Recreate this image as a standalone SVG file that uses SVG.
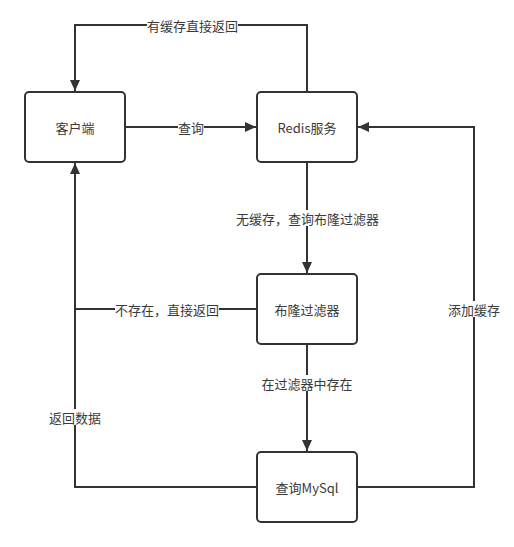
<svg xmlns="http://www.w3.org/2000/svg" width="514" height="547" viewBox="0 0 514 547">
<style>
.node rect{fill:#fff;stroke:#333;stroke-width:2}
.node text{font-family:"Noto Sans CJK SC","Liberation Sans",sans-serif;font-size:13px;fill:#3a3a3a;text-anchor:middle;dominant-baseline:central}
.edges path{fill:none;stroke:#333;stroke-width:2}
.lbl rect{fill:#fff}
.lbl text{font-family:"Noto Sans CJK SC","Liberation Sans",sans-serif;font-size:13px;fill:#3a3a3a;text-anchor:middle;dominant-baseline:central}
</style>
<defs>
<marker id="arr" viewBox="0 0 11 10" refX="11" refY="5" markerWidth="11" markerHeight="10" markerUnits="userSpaceOnUse" orient="auto">
<path d="M0,0 L11,5 L0,10 Z" fill="#333"/>
</marker>
</defs>
<rect width="514" height="547" fill="#fff"/>
<g class="edges">
<path d="M307,92 V25 H75 V91" marker-end="url(#arr)"/>
<path d="M125,127 H256" marker-end="url(#arr)"/>
<path d="M307,162 V273" marker-end="url(#arr)"/>
<path d="M257,309 H75"/>
<path d="M307,344 V451" marker-end="url(#arr)"/>
<path d="M257,487 H75 V163" marker-end="url(#arr)"/>
<path d="M357,487 H474 V127 H358" marker-end="url(#arr)"/>
<g class="lbl">
<rect x="147" y="17" width="91" height="16"/><text x="192.5" y="25">有缓存直接返回</text>
<rect x="178" y="119" width="26" height="16"/><text x="191" y="127">查询</text>
<rect x="235" y="210" width="145" height="16"/><text x="307.5" y="218">无缓存，查询布隆过滤器</text>
<rect x="115" y="301" width="104" height="16"/><text x="167" y="309">不存在，直接返回</text>
<rect x="261" y="375" width="92" height="16"/><text x="307" y="383">在过滤器中存在</text>
<rect x="49" y="409" width="52" height="16"/><text x="75" y="417">返回数据</text>
<rect x="448" y="301" width="52" height="16"/><text x="474" y="309">添加缓存</text>
</g>
</g>
<g id="client" class="node"><rect x="25" y="92" width="100" height="70" rx="4"/><text x="75" y="127">客户端</text></g>
<g id="redis" class="node"><rect x="257" y="92" width="100" height="70" rx="4"/><text x="307" y="127">Redis服务</text></g>
<g id="bloom" class="node"><rect x="257" y="274" width="100" height="70" rx="4"/><text x="307" y="309">布隆过滤器</text></g>
<g id="mysql" class="node"><rect x="257" y="452" width="100" height="70" rx="4"/><text x="307" y="487">查询MySql</text></g>
</svg>
